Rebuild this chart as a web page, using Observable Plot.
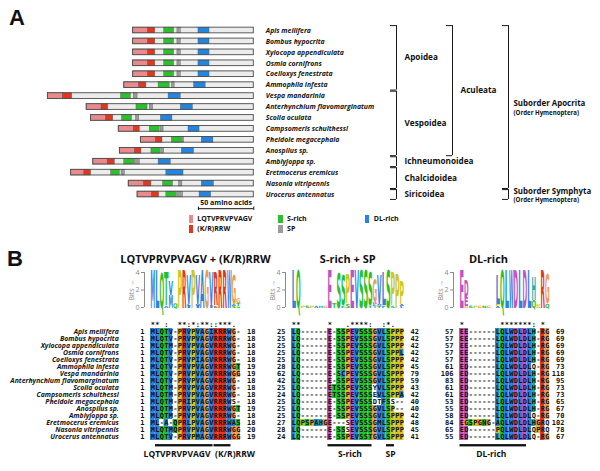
<!DOCTYPE html>
<html>
<head>
<meta charset="utf-8">
<script src="https://cdn.jsdelivr.net/npm/d3@7"></script>
<script src="https://cdn.jsdelivr.net/npm/@observablehq/plot@0.6"></script>
<style>
  html,body{margin:0;padding:0;background:#fff;}
  #fig{position:relative;width:600px;height:471px;overflow:hidden;background:#fff;font-family:"Open Sans",sans-serif;color:#111;}
  #fig svg{position:absolute;}
  .panel{position:absolute;font-family:"Liberation Sans",Arial,sans-serif;font-weight:bold;font-size:22px;line-height:22px;}
  .leg{position:absolute;display:flex;align-items:center;font-size:7px;font-weight:bold;white-space:nowrap;line-height:8px;}
  .leg .sw{display:inline-block;width:4.3px;height:8.3px;margin-right:4.5px;}
</style>
</head>
<body>
<div id="fig"></div>
<script>
// ================= DATA =================
const species = ["Apis mellifera","Bombus hypocrita","Xylocopa appendiculata","Osmia cornifrons","Coelioxys fenestrata","Ammophila infesta","Vespa mandarinia","Anterhynchium flavomarginatum","Scolia oculata","Campsomeris schulthessi","Pheidole megacephala","Anospilus sp.","Amblyjoppa sp.","Eretmocerus eremicus","Nasonia vitripennis","Urocerus antennatus"];

// Panel A — protein length and domain boundaries (amino acids from the N-terminus)
const proteinLength = [109,109,109,109,109,117,186,151,147,122,102,121,145,165,113,105];
const lqtvEnd    = [13.5,13.5,13.5,13.5,13.5,13.5,13.5,13.5,13.5,13.5,13.5,13.5,13,12,14,13];
const krrwEnd    = [20,20,20,20,20,20,22,19.5,20,19,19.5,19.5,19.5,18,20.5,19.5];
const sRichStart = [28,28,28,28,28,31,66,45,28,28,28,28.5,28,36,31,26];
const sRichEnd   = [37,37,37,37,37,41,75,55,37,37,37,37,37,44,40,35.5];
const spStart    = [40,40,40,40,40,43,77.5,57,40.5,38,37.5,38,37.5,45.5,45.5,36.5];
const spEnd      = [43,43,43,43,43,45.5,81,60,43.5,40.5,39,40,42,48.5,48.5,41];
const dlStart    = [59,59,59,59,59,63,109,85,63,63,55,56,59,86,66,56];
const dlEnd      = [69,69,69,69,69,73.5,120,96,73.5,73,65.5,67,70,101.5,77,66.5];
const segmentNames = ["LQTVPRVPVAGV","(K/R)RRW","S-rich","SP","DL-rich"];
const scaleBarAA = 50;

// Taxonomy brackets (rows are indices into species)
const taxonName  = ["Apoidea","Vespoidea","Ichneumonoidea","Chalcidoidea","Siricoidea","Aculeata","Suborder Apocrita","Suborder Symphyta"];
const taxonRank  = ["superfamily","superfamily","superfamily","superfamily","superfamily","infraorder","suborder","suborder"];
const taxonFirst = [0,6,12,13,15,0,0,15];
const taxonLast  = [5,11,12,14,15,11,14,15];
const taxonNote  = ["","","","","","","(Order Hymenoptera)","(Order Hymenoptera)"];

// Panel B — alignments
const seqLQTV = ["MLQTV-PRVPVAGIKRRWG-","MLQTV-PRVPVAGVRRRWG-","MLQTM-PRVPVAGVRRRWG-","MLQTV-PRVPVAGVRRRWG-","MLQTV-PRVPIAGVRRRWG-","MLQTV-PRVPVAGVRRRWGT","MLQTV-PRVPVAGVRRRWGG","MLQTV-PRVPVAGVRRRWG-","MLQTM-PRVPVAGVRRRWG-","MLQTM-PRVPVAGVRRRWG-","MLQTM-PRIPVAGVRRRWS-","MLQTM-PRVPVAGVRRRWGT","MLQTM-PRVPVAGVRRRWG-","ML-A-QPRLPVAGVRRRWAS","MLQTMQPRVPVAGVRRRWGG","MLQTV-PRVPMAGVRRRWGG"];
const startLQTV = [1,1,1,1,1,1,1,1,1,1,1,1,1,1,1,1];
const endLQTV   = [18,18,18,18,18,19,19,18,18,18,18,19,18,18,20,19];
const seqSRich = ["LQ------E-SSPEVSSSGVLSPPP","LQ------E-SSPEVSSSGVLSPPP","LQ------E-SSPEVSSSGVLSPPP","LQ------E-SSPEVSSSGVLSPPL","LQ------E-SSPEVSSSGVLSPPP","LQ------E-SSPEVSSSGVLSPPP","LQ------E-SCPEVSSSGVLSPPP","LQ------E-SSPEVSSSGVLSPPP","LQ------ETSSPEVSSSYVLSPPP","LQ------ETSSPEVSSSEVLSPPA","LQ------E-SSPEVSSSDTFSS--","LQ------E-SSPEVSSSGVLSP--","LQ------E-SSPEVSSSGVLSPPP","LQPSPAHGE---SEVSSSGMLSPPP","LQ------E-SSSEVSSSGVLSPPP","LQ------E-SSPEVSSTGVLSPPP"];
const startSRich = [25,25,25,25,25,28,62,42,25,24,25,25,25,27,28,24];
const endSRich   = [42,42,42,42,42,45,79,59,43,42,40,40,42,48,45,41];
const seqDL = ["EE------LQLWDLDLH-RG","EE------LQLWDLDLH-RG","EE------LQLWDLDLH-RG","EE------LQLWDLDLH-RG","EE------LQLWDLDLH-RG","ED------LQLWDLDLQ-RG","ED------LQLWDLDLH-RG","ED------LQLWDLDLH-RG","ED------LQLWDLDLH-RG","ED------LQLWDLDLH-RG","ED------LQLWDLDLH-RG","ED------LQLWDLDLH-RG","ED------LQLWDLDLQ-RG","EGSPGNG-AQLWDLDLHGRQ","ED------PQLWDLDLQPRQ","ED------LQLWDLDLQ-RG"];
const startDL = [57,57,57,57,57,61,106,83,61,61,53,55,58,84,65,55];
const endDL   = [69,69,69,69,69,73,118,95,73,73,65,67,70,102,78,67];
const logoTitles = ["LQTVPRVPVAGV + (K/R)RRW","S-rich + SP","DL-rich"];
const regionLabels = [["LQTVPRVPVAGV","(K/R)RRW"],["S-rich","SP"],["DL-rich"]];
const regionFrom   = [[1,14],[8,21],[0]];
const regionTo     = [[13,17],[17,22],[14]];

// ================= STYLE / LAYOUT =================
const segColors = ["#e98a8c","#e2361f","#2dbf2d","#9b9b9b","#2484df"];
const palette = {hyd:"#2a84df", pol:"#25c02b", pos:"#e4371f", neg:"#c14fc6", gly:"#ef9c52", pro:"#cdc623", aro:"#1db2b4"};
function cls(a){
  if ("AILMFWVC".includes(a)) return "hyd";
  if ("STNQ".includes(a)) return "pol";
  if ("KR".includes(a)) return "pos";
  if ("DE".includes(a)) return "neg";
  if (a === "G") return "gly";
  if (a === "P") return "pro";
  if ("HY".includes(a)) return "aro";
  return null;
}
const clear = {background:"transparent", overflow:"visible"};
const COLW = 4.5, ROWH = 7.55;
const sectionX = [150, 291, 459];
const fig = document.getElementById("fig");
function put(node, left, top){ node.style.left = left + "px"; node.style.top = top + "px"; fig.appendChild(node); return node; }
function div(c, html, left, top){ const d = document.createElement("div"); d.className = c; d.innerHTML = html; return put(d, left, top); }

// ================= PANEL A =================
div("panel", "A", 9, 7);
const prot = species.map((name, i) => ({name, row: i, L: proteinLength[i]}));
const segStarts = [species.map(() => 0), lqtvEnd, sRichStart, spStart, dlStart];
const segEnds = [lqtvEnd, krrwEnd, sRichEnd, spEnd, dlEnd];
const segments = prot.flatMap(p => segmentNames.map((seg, k) => ({row: p.row, seg, x1: segStarts[k][p.row] - p.L, x2: segEnds[k][p.row] - p.L})));
const bh = 0.26;
const scaleRow = species.length + 0.3;
const yA = {domain: [0, species.length - 1], reverse: true, axis: null};
const chartA = Plot.plot({
  width: 600, height: 240, marginLeft: 31.9, marginRight: 346.7, marginTop: 30, marginBottom: 46,
  x: {domain: [-200, 0], axis: null},
  y: yA,
  color: {type: "ordinal", domain: segmentNames, range: segColors},
  style: clear,
  marks: [
    Plot.rect(prot, {x1: d => -d.L, x2: 0, y1: d => d.row - bh, y2: d => d.row + bh, fill: "#ececec"}),
    Plot.rect(segments, {x1: "x1", x2: "x2", y1: d => d.row - bh, y2: d => d.row + bh, fill: "seg", stroke: "#5a5a5a", strokeWidth: 0.4}),
    Plot.rect(prot, {x1: d => -d.L, x2: 0, y1: d => d.row - bh, y2: d => d.row + bh, fill: "none", stroke: "#4a4a4a", strokeWidth: 0.9}),
    Plot.text(prot, {x: 0, y: "row", text: "name", dx: 12, textAnchor: "start", fontSize: 6.9, fontStyle: "italic", fontWeight: "bold", fontFamily: "Open Sans", fill: "#151515"}),
    Plot.ruleY([scaleBarAA], {x1: d => -d, x2: 0, y: scaleRow, stroke: "#111", strokeWidth: 1}),
    Plot.ruleX([-scaleBarAA, 0], {x: d => d, y1: scaleRow - 0.15, y2: scaleRow + 0.15, stroke: "#111", strokeWidth: 1}),
    Plot.text([scaleBarAA], {x: d => -d / 2, y: scaleRow, dy: -6, text: d => `${d} amino acids`, fontSize: 7, fontWeight: "bold", fontFamily: "Open Sans", fill: "#111"})
  ]
});
put(chartA, 0, 0);

const taxa = taxonName.map((name, i) => ({name, rank: taxonRank[i], first: taxonFirst[i], last: taxonLast[i], note: taxonNote[i]}));
const bTop = d => d.first - 0.45, bBot = d => d.last + 0.45, bMid = d => (d.first + d.last) / 2;
const chartTax = Plot.plot({
  width: 600, height: 240, marginLeft: 0, marginRight: 0, marginTop: 30, marginBottom: 46,
  x: {type: "point", domain: ["superfamily", "infraorder", "suborder"], range: [395, 508.5], padding: 0, axis: null},
  y: yA,
  style: clear,
  marks: [
    Plot.ruleX(taxa, {x: "rank", y1: bTop, y2: bBot, stroke: "#1a1a1a", strokeWidth: 1}),
    Plot.ruleY(taxa, {x1: "rank", x2: "rank", y: bTop, insetLeft: -6, stroke: "#1a1a1a", strokeWidth: 1}),
    Plot.ruleY(taxa, {x1: "rank", x2: "rank", y: bBot, insetLeft: -6, stroke: "#1a1a1a", strokeWidth: 1}),
    Plot.text(taxa.filter(d => d.rank !== "suborder"), {x: "rank", y: bMid, text: "name", dx: 8, textAnchor: "start", fontSize: 8.2, fontWeight: "bold", fontFamily: "Open Sans", fill: "#111"}),
    Plot.text(taxa.filter(d => d.rank === "suborder"), {x: "rank", y: bMid, text: "name", dx: 5, dy: -3.5, textAnchor: "start", fontSize: 7.9, fontWeight: "bold", fontFamily: "Open Sans", fill: "#111"}),
    Plot.text(taxa.filter(d => d.rank === "suborder"), {x: "rank", y: bMid, text: "note", dx: 5, dy: 6, textAnchor: "start", fontSize: 6.1, fontWeight: "bold", fontFamily: "Open Sans", fill: "#111"})
  ]
});
put(chartTax, 0, 0);

// legend
const legCol = [0, 0, 1, 1, 2], legRow = [0, 1, 0, 1, 0], legX = [188.5, 278.3, 365];
segmentNames.forEach((name, k) => {
  div("leg", `<span class="sw" style="background:${segColors[k]}"></span>${name}`, legX[legCol[k]], 214.5 + legRow[k] * 10.5);
});

// ================= PANEL B =================
div("panel", "B", 7, 248);

function logoData(seqs){
  const N = seqs.length, n = seqs[0].length, out = [];
  for (let c = 0; c < n; c++){
    const col = seqs.map(s => s[c]).filter(a => a !== "-");
    if (!col.length) continue;
    const counts = d3.rollup(col, v => v.length, a => a);
    let H = 0;
    for (const k of counts.values()){ const p = k / col.length; H -= p * Math.log2(p); }
    const R = (Math.log2(20) - H) * col.length / N;
    let y0 = 0;
    Array.from(counts, ([aa, k]) => ({aa, p: k / col.length})).sort((a, b) => a.p - b.p).forEach(({aa, p}) => {
      const h = p * R;
      if (h >= 0.06) out.push({col: c, aa, y0, y1: y0 + h});
      y0 += h;
    });
  }
  return out;
}

const LOGO_FS = 10, CAP = 0.729;
function logoPlot(seqs, title, sx, titleDx){
  const n = seqs[0].length, letters = logoData(seqs);
  const ml = 26, inset = 6;
  const svg = Plot.plot({
    width: ml + inset + n * COLW + 2, height: 71, marginLeft: ml, marginRight: 2, marginTop: 32, marginBottom: 4,
    x: {domain: [-0.5, n - 0.5], insetLeft: inset, axis: null},
    y: {domain: [0, 4], ticks: 2, tickSize: 3, tickPadding: 2, label: "Bits", labelAnchor: "center", labelOffset: 15},
    color: {type: "identity"},
    style: {...clear, fontSize: "7px", color: "#8c8c8c", fontFamily: "Open Sans"},
    marks: [
      Plot.text(letters, {x: "col", y: "y0", text: "aa", fill: d => palette[cls(d.aa)], fontSize: LOGO_FS, fontWeight: "bold", fontFamily: "DejaVu Sans", lineAnchor: "bottom"}),
      Plot.ruleX([-0.5], {x: d => d, dx: -inset, y1: 0, y2: 4, stroke: "#8c8c8c"}),
      Plot.text([title], {frameAnchor: "top", dx: inset / 2 + titleDx, dy: -17, fontSize: 11, fontWeight: "bold", fill: "#111", fontFamily: "Open Sans"})
    ]
  });
  put(svg, sx - inset - ml, 240);
  // stretch each letter to its information height
  const xs = svg.scale("x"), ys = svg.scale("y");
  const fx = xs.apply ? v => xs.apply(v) : d3.scaleLinear(xs.domain, xs.range);
  const fy = ys.apply ? v => ys.apply(v) : d3.scaleLinear(ys.domain, ys.range);
  const g = svg.querySelector('g[aria-label="text"]');
  if (g) g.querySelectorAll("text").forEach((t, i) => {
    const d = letters[i]; if (!d) return;
    t.removeAttribute("transform"); t.removeAttribute("x"); t.removeAttribute("y"); t.removeAttribute("dy");
    t.setAttribute("text-anchor", "middle");
    const bb = t.getBBox();
    const cx = fx(d.col), b = fy(d.y0), top = fy(d.y1);
    const kx = (COLW * 1.02) / Math.max(bb.width, 0.1);
    const ky = (b - top) / (LOGO_FS * CAP);
    t.setAttribute("transform", `translate(${cx},${b}) scale(${kx.toFixed(4)},${ky.toFixed(4)})`);
  });
}

const strong = ["STA","NEQK","NHQK","NDEQ","QHRK","MILV","MILF","HY","FYW"];
const weak = ["CSA","ATV","SAG","STNK","STPA","SGND","SNDEQK","NDEQHK","NEQHRK","FVLIM","HFY"];
function consSymbol(res){
  if (res.includes("-")) return "";
  const u = [...new Set(res)];
  if (u.length === 1) return "*";
  if (strong.some(g => u.every(a => g.includes(a)))) return ":";
  if (weak.some(g => u.every(a => g.includes(a)))) return ".";
  return "";
}

function alignPlot(seqs, starts, ends, labels, from, to, sx, withNames, anchors, labelDx){
  const n = seqs[0].length, N = seqs.length;
  const majority = d3.range(n).map(c => {
    const res = seqs.map(s => s[c]).filter(a => a !== "-");
    if (res.length < N / 2) return null;
    return d3.greatest(d3.rollup(res, v => v.length, cls), d => d[1])[0];
  });
  const cells = seqs.flatMap((s, i) => [...s].map((aa, c) => ({sp: species[i], col: c, aa})));
  const fill = d => {
    if (d.aa === "-") return "white";
    const k = cls(d.aa);
    if (k === "hyd" || k === "gly" || k === "pro") return palette[k];
    if (majority[d.col] && majority[d.col] !== k) return "white";
    return palette[k];
  };
  const cons = d3.range(n).map(c => ({col: c, sym: consSymbol(seqs.map(s => s[c]))})).filter(d => d.sym);
  const regions = labels.map((label, k) => ({label, from: from[k], to: to[k]}));
  const ydom = ["cons", ...species, "bar", "label"];
  const ml = withNames ? sx : 30, mr = 24, top = 308, mt = 315.675 - top;
  const mono = {fontFamily: "DejaVu Sans Mono", fontWeight: "bold", fontSize: 7, fill: "#111"};
  const svg = Plot.plot({
    width: ml + n * COLW + mr, height: mt + ydom.length * ROWH + 6,
    marginLeft: ml, marginRight: mr, marginTop: mt, marginBottom: 6,
    x: {domain: [-0.5, n - 0.5], axis: null},
    y: {type: "band", domain: ydom, padding: 0, axis: null},
    color: {type: "identity"},
    style: clear,
    marks: [
      Plot.barX(cells, {x1: d => d.col - 0.5, x2: d => d.col + 0.5, y: "sp", fill}),
      Plot.text(cells, {x: "col", y: "sp", text: "aa", ...mono}),
      Plot.text(cons, {x: "col", y: () => "cons", text: "sym", ...mono}),
      withNames ? Plot.text(species, {y: d => d, frameAnchor: "left", dx: -31.7, textAnchor: "end", fontSize: 6.9, fontStyle: "italic", fontWeight: "bold", fontFamily: "Open Sans", fill: "#151515"}) : null,
      Plot.text(starts, {y: (d, i) => species[i], text: d => String(d), frameAnchor: "left", dx: -6, textAnchor: "end", ...mono}),
      Plot.text(ends, {y: (d, i) => species[i], text: d => String(d), frameAnchor: "right", dx: 15, textAnchor: "end", ...mono}),
      Plot.barX(regions, {x1: d => d.from - 0.5, x2: d => d.to + 0.5, y: () => "bar", fill: "#111", insetTop: 2.4, insetBottom: 2.3, insetLeft: 0.5, insetRight: 0.5, dy: 1.7}),
      ...regions.map((r, k) => Plot.text([r], {x: anchors[k] === "end" ? r.to + 0.5 : anchors[k] === "start" ? r.from - 0.5 : (r.from + r.to) / 2, y: () => "label", text: "label", textAnchor: anchors[k], dx: labelDx[k], dy: 3.5, fontSize: 8.5, fontWeight: "bold", fontFamily: "Open Sans", fill: "#111"}))
    ]
  });
  put(svg, sx - ml, top);
}

const seqSets = [seqLQTV, seqSRich, seqDL];
const startSets = [startLQTV, startSRich, startDL];
const endSets = [endLQTV, endSRich, endDL];
const titleDx = [0, 0, -16];
const anchorSets = [["end", "start"], ["middle", "middle"], ["middle"]];
const labelDxSets = [[-3, 1.5], [0, 0], [-2]];
seqSets.forEach((seqs, k) => {
  logoPlot(seqs, logoTitles[k], sectionX[k], titleDx[k]);
  alignPlot(seqs, startSets[k], endSets[k], regionLabels[k], regionFrom[k], regionTo[k], sectionX[k], k === 0, anchorSets[k], labelDxSets[k]);
});
</script>
</body>
</html>
